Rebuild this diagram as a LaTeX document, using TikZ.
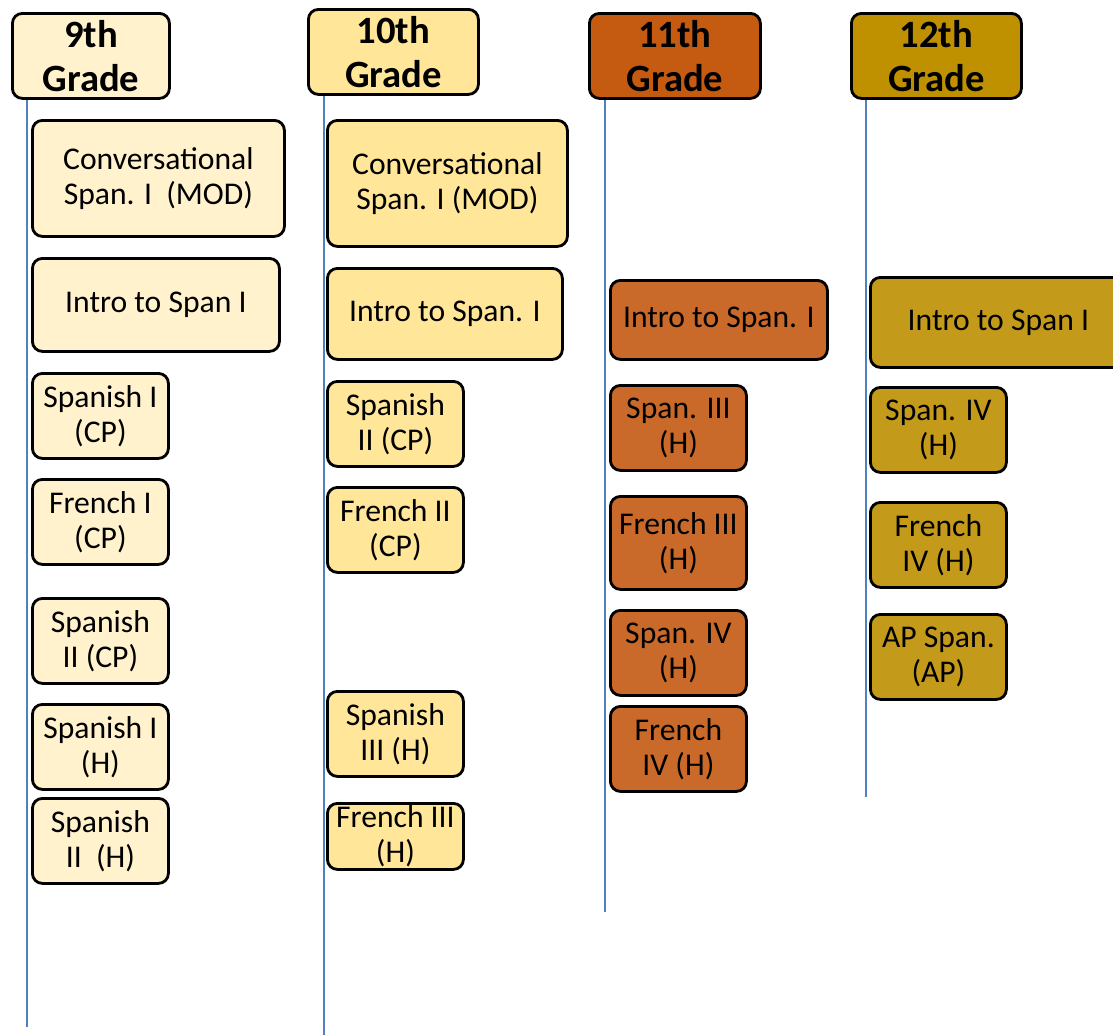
\documentclass[tikz,border=0pt]{standalone}
\usepackage{fontspec}
\setmainfont{Carlito}

\definecolor{nineth}{HTML}{FFF2CC}
\definecolor{tenth}{HTML}{FFE699}
\definecolor{eleventhhd}{HTML}{C55A11}
\definecolor{eleventh}{HTML}{C9692A}
\definecolor{twelfthhd}{HTML}{BF9000}
\definecolor{twelfth}{HTML}{C49A1B}
\definecolor{lineblue}{HTML}{4F81BD}

\tikzset{
	card/.style={draw=black, line width=1.6pt, rounded corners=0.2cm, anchor=north west,
		align=center, inner sep=0pt, font=\fontsize{18}{20}\selectfont},
	grade/.style={card, font=\bfseries\fontsize{22}{25}\selectfont},
	sz/.style 2 args={minimum width=#1*0.02cm, minimum height=#2*0.02cm},
	track/.style={draw=lineblue, line width=1.5pt}
}

\begin{document}
\begin{tikzpicture}[x=0.02cm, y=-0.02cm]
		\useasboundingbox (0,0) rectangle (1113,1035);
		
		% grade headers
		\node [grade, fill=nineth, sz={157}{85}] (g9) at (11,12) {9th\\Grade};
		\node [grade, fill=tenth, sz={170}{85}] (g10) at (307,8) {10th\\Grade};
		\node [grade, fill=eleventhhd, sz={171}{85}] (g11) at (588,12) {11th\\Grade};
		\node [grade, fill=twelfthhd, sz={170}{85}] (g12) at (850,12) {12th\\Grade};
		
		% time lines
		\coordinate (e9) at (27,1027);
		\coordinate (e10) at (324,1035);
		\coordinate (e11) at (605,912);
		\coordinate (e12) at (866,797);
		\draw [track] (g9.south -| e9) -- (e9);
		\draw [track] (g10.south -| e10) -- (e10);
		\draw [track] (g11.south -| e11) -- (e11);
		\draw [track] (g12.south -| e12) -- (e12);
		
		% 9th grade
		\node [card, fill=nineth, sz={252}{116}] (conv9) at (31,119) {Conversational\\Span. I\ \ (MOD)};
		\node [card, fill=nineth, sz={247}{93}] (intro9) at (31,257) {Intro to Span I};
		\node [card, fill=nineth, sz={136}{85}] (spa9cp) at (31,372) {Spanish I\\(CP)};
		\node [card, fill=nineth, sz={136}{85}] (fra9cp) at (31,478) {French I\\(CP)};
		\node [card, fill=nineth, sz={136}{85}] (spb9cp) at (31,597) {Spanish\\II (CP)};
		\node [card, fill=nineth, sz={136}{85}] (spa9h) at (31,703) {Spanish I\\(H)};
		\node [card, fill=nineth, sz={136}{85}] (spb9h) at (31,797) {Spanish\\II\ \ (H)};
		
		% 10th grade
		\node [card, fill=tenth, sz={240}{126}] (conv10) at (326,119) {Conversational\\Span. I (MOD)};
		\node [card, fill=tenth, sz={235}{91}] (intro10) at (326,267) {Intro to Span. I};
		\node [card, fill=tenth, sz={136}{85}] (spb10cp) at (326,380) {Spanish\\II (CP)};
		\node [card, fill=tenth, sz={136}{85}] (frb10cp) at (326,486) {French II\\(CP)};
		\node [card, fill=tenth, sz={136}{85}] (spc10h) at (326,690) {Spanish\\III (H)};
		\node [card, fill=tenth, sz={136}{66}] (frc10h) at (326,802) {French III\\(H)};
		
		% 11th grade
		\node [card, fill=eleventh, sz={217}{79}] (intro11) at (609,279) {Intro to Span. I};
		\node [card, fill=eleventh, sz={136}{85}] (spc11h) at (609,384) {Span. III\\(H)};
		\node [card, fill=eleventh, sz={136}{93}] (frc11h) at (609,495) {French III\\(H)};
		\node [card, fill=eleventh, sz={136}{85}] (spd11h) at (609,609) {Span. IV\\(H)};
		\node [card, fill=eleventh, sz={136}{85}] (frd11h) at (609,705) {French\\IV (H)};
		
		% 12th grade
		\node [card, fill=twelfth, sz={256}{90}] (intro12) at (869,276) {Intro to Span I};
		\node [card, fill=twelfth, sz={136}{85}] (spd12h) at (869,386) {Span. IV\\(H)};
		\node [card, fill=twelfth, sz={136}{85}] (frd12h) at (869,501) {French\\IV (H)};
		\node [card, fill=twelfth, sz={136}{85}] (ap12) at (869,613) {AP Span.\\(AP)};
		
\end{tikzpicture}
\end{document}
